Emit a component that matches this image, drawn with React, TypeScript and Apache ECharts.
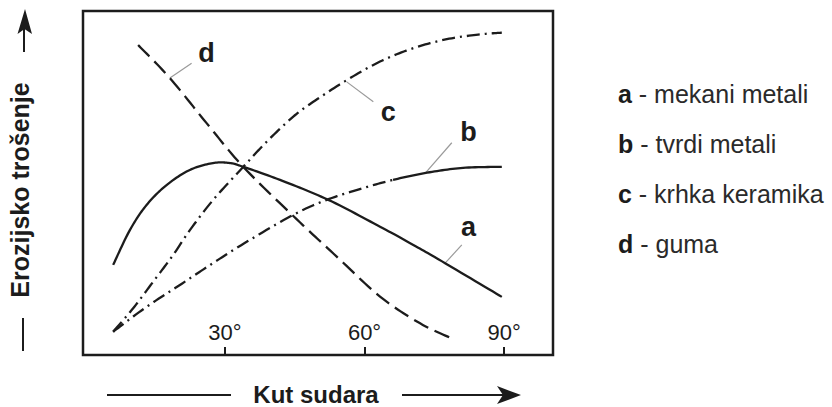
import React, { useEffect, useRef } from 'react';
import * as echarts from 'echarts';

// Curves (x: impact angle in degrees, y: relative erosive wear 0..100)
const curveA: [number, number][] = [
  [5.98, 26.2], [9.57, 36.3], [13.16, 43.6], [17.46, 49.4], [22.47, 53.8], [27.42, 55.8],
  [31.08, 55.8], [33.94, 54.7], [41.83, 50.9], [52.22, 45.1], [63.33, 37.3], [70.49, 32.0],
  [77.31, 26.7], [89.5, 16.9],
];
const curveB: [number, number][] = [
  [5.98, 6.77], [13.16, 14.0], [20.32, 20.35], [27.42, 26.7], [34.67, 32.9], [44.62, 40.7],
  [51.87, 45.1], [59.68, 48.5], [66.13, 50.9], [73.44, 53.0], [81.18, 54.4], [89.5, 54.7],
];
const curveBSolidFrom = 8;
const curveC: [number, number][] = [
  [5.98, 6.77], [10.28, 13.6], [14.58, 21.3], [18.88, 29.1], [22.47, 36.3], [27.48, 45.1],
  [33.94, 54.7], [38.97, 62.0], [44.69, 69.3], [48.99, 73.6], [56.17, 79.9], [63.33, 85.3],
  [70.49, 89.2], [77.68, 91.8], [84.84, 93.2], [89.5, 93.7],
];
const curveD: [number, number][] = [
  [11.35, 90.1], [18.17, 80.5], [26.06, 67.4], [33.94, 54.7], [44.69, 40.4], [54.02, 28.6],
  [63.33, 17.0], [71.94, 9.2], [79.46, 4.4],
];

const xTickValues = [30, 60, 90];
const xTickLabels = ['30°', '60°', '90°'];

const curveNames = ['a', 'b', 'c', 'd'];
const curveLabelPos: [number, number][] = [[82.32, 37.3], [82.32, 64.9], [65.12, 70.7], [26.06, 87.7]];
const leaderLines: [number, number, number, number][] = [
  [77.31, 26.7, 80.9, 32.0],
  [73.01, 52.8, 78.75, 61.7],
  [56.17, 79.4, 61.89, 73.6],
  [18.17, 80.5, 22.84, 84.8],
];

const legendKeys = ['a', 'b', 'c', 'd'];
const legendTexts = ['mekani metali', 'tvrdi metali', 'krhka keramika', 'guma'];

const yTitle = 'Erozijsko trošenje';
const xTitle = 'Kut sudara';

const FONT = '"Liberation Sans", Arial, Helvetica, sans-serif';
const INK = '#1c1c1c';
const DASH_DOT = [13, 5, 2, 5];
const DASH = [16, 7];

// Catmull-Rom samples between pts[i] and pts[i+1] (pixel space)
function segmentSamples(pts: number[][], i: number, steps = 14): number[][] {
  const n = pts.length;
  const p0 = pts[Math.max(0, i - 1)];
  const p1 = pts[i];
  const p2 = pts[i + 1];
  const p3 = pts[Math.min(n - 1, i + 2)];
  const out: number[][] = [];
  for (let s = 0; s <= steps; s++) {
    const t = s / steps;
    const t2 = t * t;
    const t3 = t2 * t;
    const f = (a: number, b: number, c: number, d: number) =>
      0.5 * (2 * b + (-a + c) * t + (2 * a - 5 * b + 4 * c - d) * t2 + (-a + 3 * b - 3 * c + d) * t3);
    out.push([f(p0[0], p1[0], p2[0], p3[0]), f(p0[1], p1[1], p2[1], p3[1])]);
  }
  return out;
}

type Part = { from: number; to: number; dash: any };

function curveSeries(name: string, data: [number, number][], parts: Part[]) {
  return {
    name,
    type: 'custom',
    data,
    silent: true,
    z: 3,
    renderItem: (params: any, api: any) => {
      if (params.dataIndexInside !== 0) return null;
      const n = params.dataInsideLength;
      const pts: number[][] = [];
      for (let i = 0; i < n; i++) pts.push(api.coord([api.value(0, i), api.value(1, i)]));
      const children = parts.map((p) => {
        const points: number[][] = [];
        const to = Math.min(p.to, n - 1);
        for (let i = p.from; i < to; i++) {
          const seg = segmentSamples(pts, i);
          if (points.length) seg.shift();
          points.push(...seg);
        }
        return {
          type: 'polyline',
          shape: { points },
          style: { stroke: INK, lineWidth: 2.3, fill: null, lineDash: p.dash, lineCap: 'butt', lineJoin: 'round' },
        };
      });
      return { type: 'group', children };
    },
  };
}

export default function App() {
  const ref = useRef<HTMLDivElement>(null);
  useEffect(() => {
    if (!ref.current) return;
    const chart = echarts.init(ref.current, null, { renderer: 'svg' });
    chart.setOption({
      animation: false,
      grid: {
        left: 83, top: 11, right: 279, bottom: 52,
        show: true, borderColor: INK, borderWidth: 2.5, backgroundColor: 'transparent',
      },
      xAxis: {
        type: 'value', min: -0.5, max: 100.5,
        axisLine: { show: false },
        splitLine: { show: false },
        axisTick: { show: true, inside: true, length: 8, lineStyle: { color: INK, width: 2 }, customValues: xTickValues },
        axisLabel: {
          show: true, inside: true, margin: 12, customValues: xTickValues,
          formatter: (v: number) => xTickLabels[xTickValues.indexOf(v)] ?? '',
          color: INK, fontSize: 22, fontFamily: FONT,
        },
      },
      yAxis: { type: 'value', min: 0, max: 100, show: false },
      series: [
        curveSeries('a', curveA, [{ from: 0, to: curveA.length - 1, dash: null }]),
        curveSeries('b', curveB, [
          { from: 0, to: curveBSolidFrom, dash: DASH_DOT },
          { from: curveBSolidFrom, to: curveB.length - 1, dash: null },
        ]),
        curveSeries('c', curveC, [{ from: 0, to: curveC.length - 1, dash: DASH_DOT }]),
        curveSeries('d', curveD, [{ from: 0, to: curveD.length - 1, dash: DASH }]),
      ],
    });

    const px = (p: [number, number]) => chart.convertToPixel({ gridIndex: 0 }, p) as number[];
    const graphics: any[] = [];
    leaderLines.forEach((l) => {
      const p1 = px([l[0], l[1]]);
      const p2 = px([l[2], l[3]]);
      graphics.push({
        type: 'line', silent: true,
        shape: { x1: p1[0], y1: p1[1], x2: p2[0], y2: p2[1] },
        style: { stroke: '#9a9a9a', lineWidth: 1.2 },
      });
    });
    curveNames.forEach((n, i) => {
      const p = px(curveLabelPos[i]);
      graphics.push({
        type: 'text', x: p[0], y: p[1], silent: true,
        style: { text: n, font: `bold 27px ${FONT}`, fill: INK, align: 'center', verticalAlign: 'middle' },
      });
    });
    legendKeys.forEach((k, i) => {
      graphics.push({
        type: 'text', x: 618, y: 94 + i * 50, silent: true,
        style: {
          text: `{k|${k}}{t| - ${legendTexts[i]}}`,
          verticalAlign: 'middle', align: 'left',
          rich: {
            k: { font: `bold 25px ${FONT}`, fill: INK },
            t: { font: `25px ${FONT}`, fill: '#2a2a2a' },
          },
        },
      });
    });
    // Y axis title with arrow
    graphics.push(
      {
        type: 'text', x: 20, y: 190, rotation: Math.PI / 2, silent: true,
        style: { text: yTitle, font: `bold 25px ${FONT}`, fill: INK, align: 'center', verticalAlign: 'middle' },
      },
      { type: 'line', shape: { x1: 24, y1: 52, x2: 24, y2: 26 }, style: { stroke: INK, lineWidth: 2 } },
      { type: 'polygon', shape: { points: [[25, 9], [17.5, 34], [24.5, 29], [32, 34]] }, style: { fill: INK } },
      { type: 'line', shape: { x1: 23, y1: 318, x2: 23, y2: 351 }, style: { stroke: INK, lineWidth: 2 } },
    );
    // X axis title with arrow
    graphics.push(
      {
        type: 'text', x: 316, y: 394, silent: true,
        style: { text: xTitle, font: `bold 24px ${FONT}`, fill: INK, align: 'center', verticalAlign: 'middle' },
      },
      { type: 'line', shape: { x1: 107, y1: 395, x2: 231, y2: 395 }, style: { stroke: INK, lineWidth: 2 } },
      { type: 'line', shape: { x1: 402, y1: 395, x2: 508, y2: 395 }, style: { stroke: INK, lineWidth: 2 } },
      { type: 'polygon', shape: { points: [[521, 395], [497, 386], [503, 395], [497, 404]] }, style: { fill: INK } },
    );
    chart.setOption({ graphic: graphics });
    return () => chart.dispose();
  }, []);
  return (
    <div
      ref={ref}
      style={{ position: 'fixed', left: 0, top: 0, width: 832, height: 407, background: '#fff' }}
    />
  );
}
